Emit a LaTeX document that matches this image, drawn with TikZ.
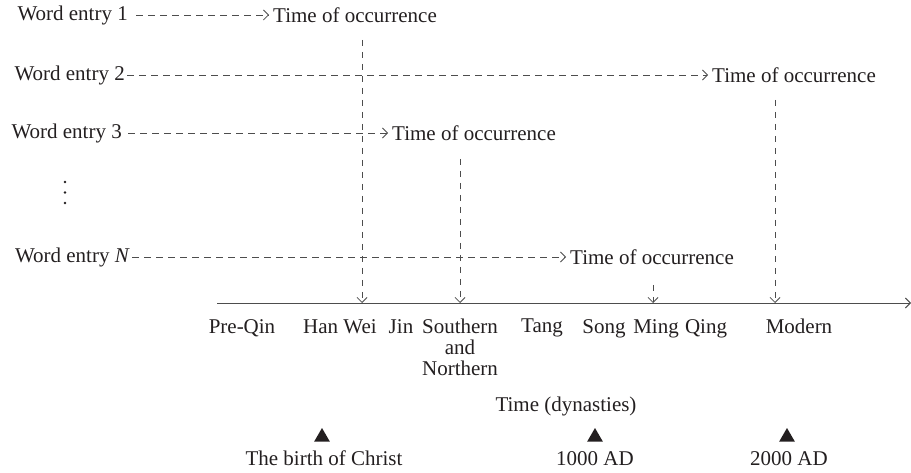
\documentclass[tikz,border=0pt]{standalone}
\usepackage{fontspec}
\setmainfont{Liberation Serif}
\usetikzlibrary{arrows.meta,shapes.geometric}
\definecolor{txt}{HTML}{231F20}
\definecolor{ln}{HTML}{4D4D4D}
\begin{document}
\begin{tikzpicture}[x=1pt,y=-1pt,
  every node/.style={font=\fontsize{21}{21}\selectfont, text=txt, inner sep=1pt},
  dashline/.style={draw=ln, line width=0.8pt, dash pattern=on 6.5pt off 5.5pt},
  axisline/.style={draw=ln, line width=0.9pt},
  arr/.style={-{Straight Barb[length=5pt,width=10pt]}},
  occ/.style={anchor=west, inner xsep=4pt},
  dyn/.style={anchor=north, align=center},
  bot/.style={anchor=base},
  tri/.style={regular polygon, regular polygon sides=3, fill=txt, draw=none, minimum size=18pt, inner sep=0pt}]
\useasboundingbox (0,0) rectangle (911,473);

% word entries
\node[anchor=east, inner xsep=8pt] (w1) at (136,15) {Word entry 1};
\node[occ] (o1) at (269,15) {Time of occurrence};
\node[anchor=east, inner xsep=2pt] (w2) at (127,75) {Word entry 2};
\node[occ] (o2) at (708,75) {Time of occurrence};
\node[anchor=east, inner xsep=6pt] (w3) at (128,133) {Word entry 3};
\node[occ] (o3) at (388,133) {Time of occurrence};
\node[anchor=east, inner xsep=2pt] (wN) at (132,257) {Word entry \textit{N}};
\node[occ] (oN) at (566,257) {Time of occurrence};

% vertical ellipsis
\fill[txt] (65,182) circle (1.4pt);
\fill[txt] (65,192.5) circle (1.4pt);
\fill[txt] (65,203) circle (1.4pt);

\draw[dashline,arr] (w1.east) -- (o1.west);
\draw[dashline,arr] (w2.east) -- (o2.west);
\draw[dashline,arr] (w3.east) -- (o3.west);
\draw[dashline,arr] (wN.east) -- (oN.west);

% axis
\coordinate (ax0) at (217,303);
\coordinate (ax1) at (911,303);
\draw[axisline,arr] (ax0) -- (ax1);

% vertical connectors
\coordinate (v1) at (362,40);  \coordinate (a1) at (362,303);
\coordinate (v2) at (775,100); \coordinate (a2) at (775,303);
\coordinate (v3) at (460,159); \coordinate (a3) at (460,303);
\coordinate (v4) at (653,285); \coordinate (a4) at (653,303);
\draw[dashline,arr] (v1) -- (a1);
\draw[dashline,arr] (v2) -- (a2);
\draw[dashline,arr] (v3) -- (a3);
\draw[dashline,arr] (v4) -- (a4);

% dynasties
\node[dyn] (d1) at (242,318) {Pre-Qin};
\node[dyn] (d2) at (340,318) {Han Wei};
\node[dyn] (d3) at (401,318) {Jin};
\node[dyn] (d4) at (460,318) {Southern\\and\\Northern};
\node[dyn] (d5) at (542,318) {Tang};
\node[dyn] (d6) at (604,318) {Song};
\node[dyn] (d7) at (656,318) {Ming};
\node[dyn] (d8) at (706,318) {Qing};
\node[dyn] (d9) at (799,318) {Modern};

% bottom
\node[bot] (tdyn) at (566,411) {Time (dynasties)};
\node[tri] (t1) at (322,437) {};
\node[tri] (t2) at (595,437) {};
\node[tri] (t3) at (787,437) {};
\node[bot] (b1) at (324,465) {The birth of Christ};
\node[bot] (b2) at (595,465) {1000 AD};
\node[bot] (b3) at (789,465) {2000 AD};
\end{tikzpicture}
\end{document}
